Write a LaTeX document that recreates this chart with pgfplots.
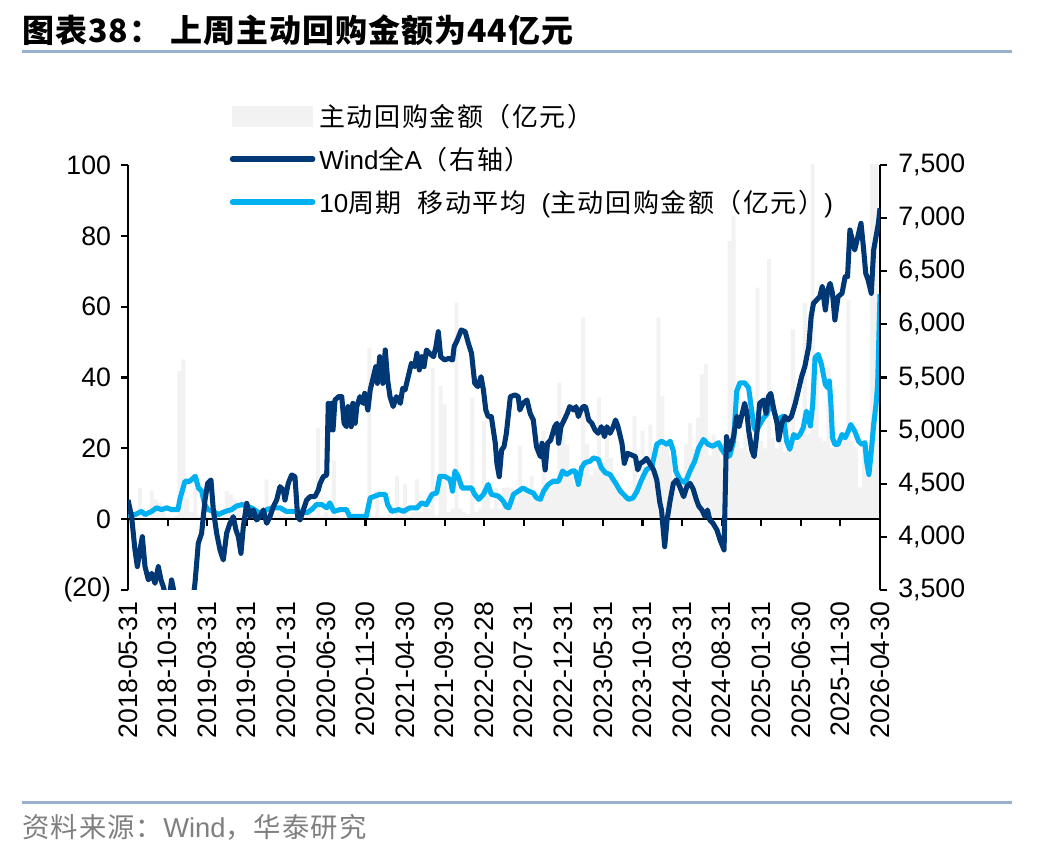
\documentclass[border=0pt]{standalone}
\usepackage{fontspec}
\setmainfont{Liberation Sans}
\newfontfamily\cjk{Noto Sans CJK SC}
\newfontfamily\cjkl{Noto Sans CJK SC}[LetterSpace=6]
\newfontfamily\cjks{Noto Sans CJK SC}[LetterSpace=4]
\newfontfamily\cjkt{Noto Sans CJK SC}[LetterSpace=3]
\usepackage{pgfplots}
\usepackage{pgfplotstable}
\pgfplotsset{compat=1.18}

\definecolor{barcol}{HTML}{F2F2F2}
\definecolor{navy}{HTML}{003876}
\definecolor{sky}{HTML}{00B0F0}
\definecolor{rulecol}{HTML}{99B0CC}
\definecolor{srcgray}{HTML}{7F7F7F}

% x = months since 2018-05-31
% weekly buyback amount (100m CNY), half-month bins
\pgfplotstableread[row sep=\\]{
x y\\
0 0.5\\ 0.5 0\\ 1 1\\ 1.5 8.8\\ 2 2\\ 2.5 0.5\\ 3 7.9\\ 3.5 5.5\\ 4 4.6\\ 4.5 2\\
5 1\\ 5.5 0.5\\ 6 1\\ 6.5 41.8\\ 7 45.1\\ 7.5 6\\ 8 2\\ 8.5 8.8\\ 9 1\\ 9.5 0.5\\
10 1\\ 10.5 0.5\\ 11 0\\ 11.5 1\\ 12 1\\ 12.5 7.9\\ 13 7\\ 13.5 5.5\\ 14 4.6\\ 14.5 1\\
15 2\\ 15.5 1\\ 16 0.5\\ 16.5 0\\ 17 1\\ 17.5 11.2\\ 18 3\\ 18.5 1\\ 19 2\\ 19.5 1\\
20 0.5\\ 20.5 1\\ 21 0.5\\ 21.5 1\\ 22 0.5\\ 22.5 1\\ 23 2\\ 23.5 1\\ 24 25.8\\ 24.5 1\\
25 2\\ 25.5 1\\ 26 16.4\\ 26.5 1\\ 27 0.5\\ 27.5 0\\ 28 1.5\\ 28.5 0\\ 29 0\\ 29.5 0\\
30 0.5\\ 30.5 48.4\\ 31 1\\ 31.5 7.9\\ 32 1\\ 32.5 0.5\\ 33 1\\ 33.5 0.5\\ 34 12.1\\ 34.5 1\\
35 9.8\\ 35.5 1\\ 36 2\\ 36.5 11.2\\ 37 2\\ 37.5 4\\ 38 3\\ 38.5 42.7\\ 39 1\\ 39.5 37.6\\
40 32.4\\ 40.5 2\\ 41 3\\ 41.5 61.1\\ 42 3\\ 42.5 2\\ 43 1.5\\ 43.5 34.3\\ 44 2\\ 44.5 3\\
45 27.7\\ 45.5 8\\ 46 3\\ 46.5 8.8\\ 47 3\\ 47.5 8.8\\ 48 9\\ 48.5 8.8\\ 49 5\\ 49.5 20.6\\
50 9\\ 50.5 7\\ 51 12.1\\ 51.5 5\\ 52 6\\ 52.5 24.9\\ 53 10\\ 53.5 9\\ 54 10\\ 54.5 38.5\\
55 23.9\\ 55.5 21.1\\ 56 12\\ 56.5 10\\ 57 9\\ 57.5 56.9\\ 58 21.1\\ 58.5 12.6\\ 59 14\\ 59.5 34.3\\
60 16\\ 60.5 23.9\\ 61 17.3\\ 61.5 9\\ 62 8\\ 62.5 6\\ 63 5\\ 63.5 7\\ 64 29.1\\ 64.5 8\\
65 24.9\\ 65.5 12\\ 66 26.7\\ 66.5 12\\ 67 56.9\\ 67.5 34.7\\ 68 21.1\\ 68.5 18\\ 69 10\\ 69.5 9\\
70 12\\ 70.5 21.1\\ 71 27.2\\ 71.5 20\\ 72 28.6\\ 72.5 40.9\\ 73 43.7\\ 73.5 18\\ 74 23.9\\ 74.5 20\\
75 17\\ 75.5 16\\ 76 78.5\\ 76.5 85.6\\ 77 22\\ 77.5 20\\ 78 24\\ 78.5 19\\ 79 21\\ 79.5 65.4\\
80 22\\ 80.5 20\\ 81 73.4\\ 81.5 23\\ 82 20\\ 82.5 22\\ 83 19\\ 83.5 21\\ 84 53.6\\ 84.5 22\\
85 23\\ 85.5 61.1\\ 86 24\\ 86.5 140\\ 87 40\\ 87.5 23\\ 88 22\\ 88.5 42.7\\ 89 20\\ 89.5 22\\
90 21\\ 90.5 23\\ 91 62\\ 91.5 22\\ 92 20\\ 92.5 9\\ 93 21\\ 93.5 20\\ 94 130\\ 94.5 120\\
95 44\\
}\buyback

% 10-week moving average of the buyback amount
\pgfplotstableread[row sep=\\]{
x y\\
0 1.3\\ 0.88 1.3\\ 1.73 2.2\\ 2.15 1.3\\ 3.0 2.2\\ 3.6 3.2\\ 4.25 2.7\\ 4.9 3.2\\ 5.5 2.7\\ 6.3 2.7\\
6.6 6.0\\ 7.2 10.7\\ 7.8 10.7\\ 8.5 12.1\\ 8.9 8.8\\ 9.3 7.9\\ 9.7 4.1\\ 10.1 2.7\\ 10.8 2.2\\ 11.4 1.3\\
12.3 2.2\\ 13.1 2.7\\ 13.7 3.7\\ 14.4 4.1\\ 15.0 3.7\\ 15.6 3.2\\ 16.3 2.2\\ 16.9 1.3\\ 17.5 2.7\\ 18.4 3.2\\
19.2 3.2\\ 20.0 2.2\\ 21.1 2.2\\ 21.9 2.2\\ 22.6 1.8\\ 23.2 2.7\\ 23.8 4.1\\ 24.5 4.1\\ 25.1 3.2\\ 25.5 4.6\\
26.0 2.2\\ 26.8 2.7\\ 27.6 2.7\\ 28.0 0.8\\ 29.1 0.8\\ 30.1 0.8\\ 30.6 6.0\\ 31.2 6.5\\ 31.8 7.0\\ 32.5 7.0\\
32.8 4.1\\ 33.3 2.2\\ 34.2 2.7\\ 34.8 2.2\\ 35.6 3.2\\ 36.5 3.2\\ 37.1 4.6\\ 37.7 4.1\\ 38.4 7.0\\ 39.0 7.4\\
39.4 12.1\\ 40.0 12.1\\ 40.7 11.2\\ 41.0 7.9\\ 41.3 13.6\\ 41.7 12.1\\ 42.2 8.8\\ 42.8 8.8\\ 43.4 8.8\\ 43.8 7.0\\
44.3 5.6\\ 44.9 7.0\\ 45.5 9.8\\ 45.9 7.0\\ 46.8 6.5\\ 47.4 5.1\\ 47.8 3.5\\ 48.1 3.2\\ 48.7 7.0\\ 49.3 7.9\\
49.9 8.8\\ 50.6 7.9\\ 51.2 7.4\\ 51.6 6.0\\ 52.1 5.6\\ 52.5 7.9\\ 53.1 9.8\\ 53.7 10.7\\ 54.4 10.7\\ 54.9 13.6\\
55.4 12.6\\ 56.1 13.6\\ 56.5 13.6\\ 56.9 9.8\\ 57.3 14.5\\ 57.7 15.9\\ 58.4 16.4\\ 58.8 17.3\\ 59.4 16.9\\ 59.8 14.5\\
60.3 13.1\\ 60.9 12.6\\ 61.3 11.2\\ 61.7 9.8\\ 62.2 7.9\\ 62.6 7.0\\ 63.2 5.6\\ 63.8 6.0\\ 64.3 7.9\\ 64.9 11.2\\
65.5 14.0\\ 66.2 15.0\\ 66.8 21.1\\ 67.4 22.0\\ 68.1 21.1\\ 68.5 22.0\\ 68.9 19.2\\ 69.2 13.6\\ 69.7 11.2\\ 70.4 10.3\\
71.0 13.6\\ 71.6 16.4\\ 72.1 20.1\\ 72.7 22.5\\ 73.3 21.1\\ 73.9 20.6\\ 74.6 21.6\\ 75.0 19.7\\ 75.6 17.8\\ 76.0 17.8\\
76.5 22.0\\ 76.9 36.1\\ 77.3 38.5\\ 77.9 38.5\\ 78.4 37.1\\ 78.8 30.5\\ 79.1 25.8\\ 79.4 24.9\\ 79.8 26.7\\ 80.3 28.6\\
80.7 29.6\\ 81.1 32.4\\ 81.5 31.4\\ 82.0 27.7\\ 82.4 28.6\\ 82.8 29.1\\ 83.2 22.0\\ 83.6 19.7\\ 84.1 23.9\\ 84.5 23.0\\
84.9 23.9\\ 85.3 25.8\\ 85.7 30.5\\ 86.2 26.3\\ 86.5 32.4\\ 86.8 45.6\\ 87.2 46.5\\ 87.6 43.7\\ 88.1 38.0\\ 88.4 37.1\\
88.6 39.0\\ 88.8 32.4\\ 89.0 23.0\\ 89.3 21.1\\ 89.7 21.1\\ 90.2 23.9\\ 90.6 23.0\\ 91.0 24.9\\ 91.3 26.7\\ 91.8 24.9\\
92.3 22.0\\ 92.7 21.1\\ 93.1 21.6\\ 93.3 16.4\\ 93.6 12.6\\ 93.9 19.2\\ 94.2 26.7\\ 94.5 32.4\\ 94.7 38.0\\ 94.9 55.0\\
95.0 63.5\\
}\buybackma

% Wind All-A index (right axis)
\pgfplotstableread[row sep=\\]{
x y\\
0 4347\\ 0.46 4190\\ 0.88 3877\\ 1.18 3720\\ 1.52 3877\\ 1.81 4002\\ 2.15 3720\\ 2.57 3595\\ 2.99 3657\\ 3.41 3563\\
3.83 3720\\ 4.17 3595\\ 4.46 3532\\ 4.88 3406\\ 5.3 3470\\ 5.5 3595\\ 5.85 3470\\ 6.36 3250\\ 7.2 3150\\ 8.04 3312\\
8.46 3563\\ 8.88 3939\\ 9.3 4034\\ 9.73 4347\\ 10.06 4504\\ 10.48 4536\\ 10.78 4253\\ 11.2 4034\\ 11.62 3877\\ 12.04 3783\\
12.46 4034\\ 12.88 4128\\ 13.3 4190\\ 13.64 4065\\ 13.94 4002\\ 14.27 3845\\ 14.57 4097\\ 15.0 4316\\ 15.41 4190\\ 15.83 4253\\
16.25 4159\\ 16.67 4190\\ 17.09 4253\\ 17.52 4128\\ 17.94 4190\\ 18.36 4285\\ 18.78 4347\\ 19.2 4473\\ 19.62 4441\\ 19.83 4347\\
20.25 4504\\ 20.67 4583\\ 21.09 4567\\ 21.43 4190\\ 21.73 4159\\ 22.15 4253\\ 22.57 4347\\ 22.99 4378\\ 23.62 4380\\ 24.04 4441\\
24.25 4500\\ 24.67 4567\\ 25.1 4582\\ 25.3 5257\\ 25.5 5006\\ 25.7 5257\\ 25.9 5006\\ 26.15 5288\\ 26.6 5320\\ 27.0 5320\\
27.3 5069\\ 27.6 5037\\ 27.8 5226\\ 28.2 5037\\ 28.4 5257\\ 28.7 5069\\ 28.9 5226\\ 29.3 5320\\ 29.7 5257\\ 29.9 5351\\
30.3 5194\\ 30.6 5383\\ 31.0 5508\\ 31.3 5602\\ 31.5 5445\\ 31.8 5696\\ 32.2 5445\\ 32.5 5759\\ 32.8 5477\\ 33.1 5320\\
33.5 5226\\ 33.9 5320\\ 34.4 5257\\ 34.7 5398\\ 35.0 5383\\ 35.4 5508\\ 35.8 5633\\ 36.2 5602\\ 36.5 5727\\ 36.8 5571\\
37.1 5696\\ 37.4 5602\\ 37.7 5759\\ 38.1 5727\\ 38.6 5696\\ 38.9 5790\\ 39.2 5931\\ 39.5 5696\\ 40.0 5665\\ 40.5 5680\\
41.0 5665\\ 41.2 5790\\ 41.6 5853\\ 42.1 5947\\ 42.6 5931\\ 43.0 5822\\ 43.4 5727\\ 43.8 5445\\ 44.2 5414\\ 44.6 5508\\
44.9 5383\\ 45.2 5194\\ 45.5 5132\\ 45.9 5132\\ 46.4 4881\\ 46.6 4692\\ 46.9 4567\\ 47.2 4818\\ 47.5 4849\\ 47.8 4975\\
48.3 5320\\ 48.9 5336\\ 49.3 5320\\ 49.5 5194\\ 49.9 5257\\ 50.4 5288\\ 50.8 5163\\ 51.2 5100\\ 51.6 4849\\ 52.1 4755\\
52.3 4881\\ 52.7 4630\\ 53.0 4881\\ 53.4 4912\\ 53.9 5037\\ 54.2 5069\\ 54.4 4881\\ 54.7 5037\\ 55.1 5100\\ 55.5 5163\\
55.8 5226\\ 56.3 5194\\ 56.6 5226\\ 56.9 5132\\ 57.2 5194\\ 57.5 5226\\ 57.8 5226\\ 58.2 5100\\ 58.6 5069\\ 59.0 5006\\
59.4 4975\\ 59.8 5037\\ 60.2 4943\\ 60.5 5037\\ 60.9 4975\\ 61.3 5037\\ 61.6 5100\\ 61.9 5037\\ 62.4 4881\\ 62.7 4692\\
63.1 4786\\ 63.6 4771\\ 64.1 4755\\ 64.4 4630\\ 64.7 4692\\ 65.1 4708\\ 65.5 4739\\ 65.9 4692\\ 66.4 4630\\ 66.8 4536\\
67.2 4316\\ 67.4 4253\\ 67.8 3908\\ 68.1 4159\\ 68.5 4347\\ 68.9 4504\\ 69.3 4536\\ 69.7 4473\\ 70.2 4378\\ 70.6 4473\\
71.0 4504\\ 71.4 4450\\ 71.8 4350\\ 72.1 4290\\ 72.5 4253\\ 72.9 4190\\ 73.2 4253\\ 73.5 4159\\ 73.9 4128\\ 74.4 4065\\
74.8 3971\\ 75.3 3877\\ 75.6 4943\\ 76.0 4818\\ 76.5 4943\\ 76.9 5132\\ 77.2 5037\\ 77.5 5132\\ 77.9 5257\\ 78.2 5163\\
78.4 5006\\ 78.8 4818\\ 79.1 4755\\ 79.4 4943\\ 79.8 5257\\ 80.3 5288\\ 80.6 5163\\ 80.9 5320\\ 81.2 5351\\ 81.6 5194\\
82.0 5069\\ 82.2 4912\\ 82.6 5069\\ 83.0 5132\\ 83.4 5100\\ 83.8 5132\\ 84.3 5257\\ 84.7 5383\\ 85.1 5508\\ 85.5 5602\\
86.0 5790\\ 86.3 6073\\ 86.6 6198\\ 87.0 6230\\ 87.4 6261\\ 87.7 6355\\ 88.1 6135\\ 88.4 6324\\ 88.7 6386\\ 89.0 6292\\
89.3 6041\\ 89.7 6261\\ 90.2 6292\\ 90.6 6449\\ 90.9 6449\\ 91.2 6888\\ 91.5 6794\\ 91.8 6700\\ 92.3 6857\\ 92.6 6951\\
92.9 6731\\ 93.2 6480\\ 93.5 6418\\ 93.9 6292\\ 94.2 6700\\ 94.5 6826\\ 94.8 6951\\ 95.0 7092\\
}\winda

\pgfplotsset{
  panel/.style={
    at={(96pt,196.5pt)}, anchor=south west,
    scale only axis, width=564pt, height=318.75pt,
    xmin=0, xmax=95,
    tick align=outside, major tick length=5.25pt,
    y axis line style={line width=1.6pt, black, -},
    ytick style={line width=1.6pt, black},
    yticklabel style={font=\fontsize{20}{24}\selectfont},
  },
}

\begin{document}
\begin{tikzpicture}
\path (0,0) rectangle (786pt,639pt);

\node[anchor=base west, inner sep=0pt] at (16.5pt,606.75pt)
  {\fontsize{24}{28}\selectfont\cjkt\bfseries 图表38：\hspace{0.3em}上周主动回购金额为44亿元};
\draw[rulecol, line width=2.25pt] (16.5pt,600pt) -- (759pt,600pt);
\draw[rulecol, line width=2.25pt] (16.5pt,36.75pt) -- (759pt,36.75pt);
\node[anchor=base west, inner sep=0pt, text=srcgray] at (16.5pt,10.5pt)
  {\fontsize{20.5}{24}\selectfont{\cjks 资料来源：}Wind{\cjks ，华泰研究}};

% left axis: buyback amount and its moving average
\begin{axis}[panel,
  ymin=-20, ymax=100,
  axis y line*=left, axis x line*=bottom,
  ytick pos=left, yticklabel pos=left,
  yticklabel shift=4pt,
  x axis line style={draw=none},
  xtick={0,5,...,95},
  xticklabels={2018-05-31,2018-10-31,2019-03-31,2019-08-31,2020-01-31,2020-06-30,2020-11-30,2021-04-30,2021-09-30,2022-02-28,2022-07-31,2022-12-31,2023-05-31,2023-10-31,2024-03-31,2024-08-31,2025-01-31,2025-06-30,2025-11-30,2026-04-30},
  xtick style={draw=none},
  xticklabel style={rotate=90, anchor=east, font=\fontsize{20}{24}\selectfont},
  ytick={-20,0,20,40,60,80,100},
  yticklabels={(20),0,20,40,60,80,100},
]
\addplot[ybar, bar width=0.5, bar shift=0pt, fill=barcol, draw=none] table[x=x,y=y]{\buyback};
\addplot[sky, line width=3.8pt, line join=round] table[x=x,y=y]{\buybackma};
\draw[black, line width=1.6pt] (axis cs:0,0) -- (axis cs:95,0);
\pgfplotsinvokeforeach{5,10,15,20,25,30,35,40,45,50,55,60,65,70,75,80,85,90,95}{
  \draw[black, line width=1.6pt] (axis cs:#1,0) -- ++(0pt,-5.25pt);
}
\end{axis}

% right axis: Wind All-A index
\begin{axis}[panel,
  ymin=3500, ymax=7500,
  axis y line*=right, axis x line=none,
  ytick pos=right, yticklabel pos=right,
  yticklabel shift=5pt,
  ytick={3500,4000,...,7500},
  yticklabels={{3,500},{4,000},{4,500},{5,000},{5,500},{6,000},{6,500},{7,000},{7,500}},
  legend cell align=left,
  legend style={at={(rel axis cs:0.135,1.15)}, anchor=north west,
    draw=none, fill=none, inner sep=0pt, row sep=10pt, column sep=1pt,
    font=\fontsize{19.5}{23}\selectfont},
]
\addlegendimage{legend image code/.code={\fill[barcol] (0pt,-7.5pt) rectangle (60pt,7.5pt);}}
\addlegendentry{{\cjkl 主动回购金额（亿元）}}
\addplot[navy, line width=3.8pt, line join=round,
  legend image code/.code={\draw[navy, line width=4.2pt, line cap=round] (0pt,0pt) -- (60pt,0pt);}]
  table[x=x,y=y]{\winda};
\addlegendentry{Wind{\cjkl 全}A{\cjkl （右轴）}}
\addlegendimage{legend image code/.code={\draw[sky, line width=4.2pt, line cap=round] (0pt,0pt) -- (60pt,0pt);}}
\addlegendentry{10{\cjkl 周期}\hspace{0.6em}{\cjkl 移动平均}\hspace{0.6em}({\cjkl 主动回购金额（亿元）})}
\end{axis}
\end{tikzpicture}
\end{document}
